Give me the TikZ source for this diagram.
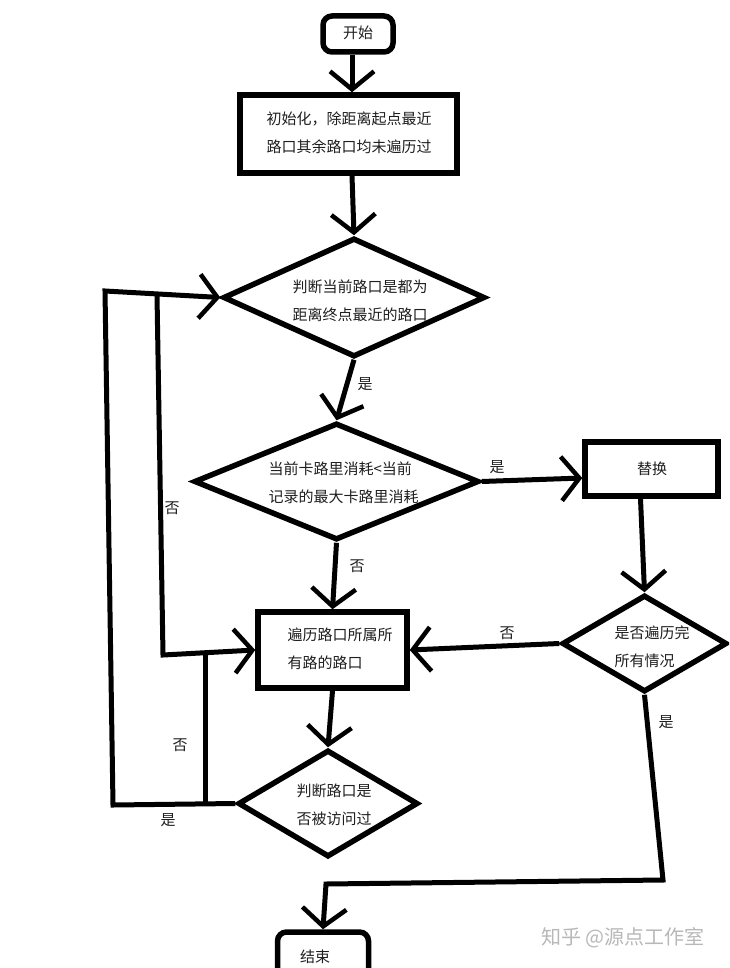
\documentclass[tikz,border=0pt]{standalone}
\usepackage{fontspec}
\newfontfamily\cjk{Noto Sans CJK SC}
\usetikzlibrary{arrows.meta,shapes.geometric}
\begin{document}
\begin{tikzpicture}[x=1pt,y=-1pt,
  line width=5pt,
  txt/.style={font=\cjk\fontsize{15}{28}\selectfont, inner sep=0pt, align=left, text=black!88},
  lbl/.style={font=\cjk\fontsize{15}{18}\selectfont, inner sep=0pt, text=black!88},
  box/.style={draw, line width=5.5pt, inner sep=0pt},
  rbox/.style={box, rounded corners=9pt},
  dia/.style={draw, diamond, line width=5.5pt, inner sep=0pt},
  arr/.style={-{Straight Barb[length=18pt,width=44pt,line width=4.5pt]}}
]
\useasboundingbox (0,0) rectangle (729,968);
\clip (0,0) rectangle (729,968);
\fill[white] (0,0) rectangle (729,968);

% boxes
\node[rbox, minimum width=70pt, minimum height=36pt] (start) at (358,34) {};
\node[lbl] (tstart) at (358,33) {开始};
\node[box, minimum width=217pt, minimum height=78pt] (init) at (348.5,134) {};
\node[txt, align=center] (tinit) at (349,133) {初始化，除距离起点最近\\路口其余路口均未遍历过};
\node[dia, minimum width=262pt, minimum height=119pt] (d1) at (354,297.5) {};
\node[txt, align=center] (td1) at (360,301) {判断当前路口是都为\\距离终点最近的路口};
\node[dia, minimum width=285pt, minimum height=117pt] (d2) at (336.5,481.5) {};
\node[txt, anchor=west] (td2) at (266,483) {当前卡路里消耗<当前\\记录的最大卡路里消耗};
\node[box, minimum width=133pt, minimum height=54pt] (rep) at (651.5,469) {};
\node[lbl] (trep) at (652,469) {替换};
\node[dia, minimum width=165pt, minimum height=97pt] (d3) at (644.5,643.5) {};
\node[txt, anchor=west] (td3) at (612,646.5) {是否遍历完\\所有情况};
\node[box, minimum width=149pt, minimum height=76pt] (trav) at (332.5,650) {};
\node[txt, anchor=west] (ttrav) at (285,648.5) {遍历路口所属所\\有路的路口};
\node[dia, minimum width=180pt, minimum height=107pt] (d4) at (328,803.5) {};
\node[txt, align=center] (td4) at (334,805) {判断路口是\\否被访问过};
\node[rbox, minimum width=91pt, minimum height=68pt] (end) at (323,966) {};
\node[lbl] (tend) at (315,957) {结束};

% connector corners
\coordinate (c1) at (113,805);
\coordinate (c2) at (105,291);
\coordinate (c3) at (157,295);
\coordinate (c4) at (163,655);
\coordinate (c5) at (205,804);
\coordinate (c6) at (205,655);
\coordinate (c7) at (663,880);
\coordinate (c8) at (326,884);

% connectors
\draw[arr] ([xshift=-6pt]start.south) -- ([xshift=3.5pt]init.north);
\draw[arr] ([xshift=3.5pt]init.south) -- (d1.north);
\draw[arr] (d1.south) -- (d2.north);
\draw[arr] (d2.east) -- ([yshift=-9pt]rep.west);
\draw[arr] ([xshift=-11pt]rep.south) -- (d3.north);
\draw[arr] (d3.west) -- (trav.east);
\draw[arr] (d2.south) -- (trav.north);
\draw[arr] (trav.south) -- (d4.north);
\draw[arr] (d4.west) -- (c1) -- (c2) -- (d1.west);
\draw[arr] (c3) -- (c4) -- (trav.west);
\draw (c5) -- (c6);
\draw[arr] (d3.south) -- (c7) -- (c8) -- (end.north);

% labels
\node[lbl] (l1) at (365,384) {是};
\node[lbl] (l2) at (497,467) {是};
\node[lbl] (l3) at (357,566) {否};
\node[lbl] (l4) at (172,508) {否};
\node[lbl] (l5) at (507,633) {否};
\node[lbl] (l6) at (180,745) {否};
\node[lbl] (l7) at (168,820) {是};
\node[lbl] (l8) at (666,722) {是};

% watermark
\node[font=\cjk\fontsize{20}{24}\selectfont, text=black!28, inner sep=0pt] (wm) at (623,938) {知乎 @源点工作室};
\end{tikzpicture}
\end{document}
